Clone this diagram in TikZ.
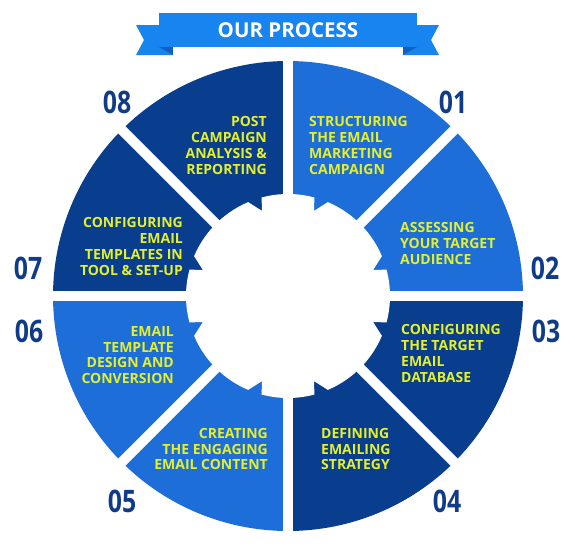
\documentclass[tikz,border=0pt]{standalone}
\usepackage{fontspec}
\setmainfont{Open Sans}
\newfontfamily\talfont[FakeStretch=0.8]{Open Sans}
\definecolor{lys}{RGB}{29,110,216}
\definecolor{mork}{RGB}{9,61,141}
\definecolor{gul}{RGB}{228,240,44}
\definecolor{navy}{RGB}{16,60,135}
\definecolor{baand}{RGB}{24,132,240}
\definecolor{fold}{RGB}{18,96,190}
\tikzset{
    tekst/.style={
           text=gul,
           font=\fontsize{14}{15.7}\selectfont\bfseries,
           inner sep=0pt},
    venstre/.style={tekst, align=left, anchor=west},
    hoejre/.style={tekst, align=right, anchor=east},
    tal/.style={
           text=navy,
           font=\talfont\fontsize{31}{31}\selectfont\bfseries,
           inner sep=0pt}
}
\begin{document}
\begin{tikzpicture}[x=1pt, y=1pt]
    \useasboundingbox (-288,-254) rectangle (287,296);

    \foreach \a/\farve in {45/lys, 0/lys, -45/mork, -90/mork, -135/lys, 180/lys, 135/mork, 90/mork}
        \fill[\farve] (0,0) -- (\a:235) arc[start angle=\a, delta angle=45, radius=235] -- cycle;
    \foreach \a in {0,45,90,135}
        \draw[white, line width=10pt] (\a:240) -- (\a+180:240);
    \fill[white] (-15:102)
        \foreach \c in {0,90,180,270} {
            arc[start angle=\c-15, end angle=\c+15, radius=102]
            -- (\c+17:89) -- (\c+23:102)
            arc[start angle=\c+23, end angle=\c+67, radius=102]
            -- (\c+73:89) -- (\c+75:102)
        } -- cycle;

    \fill[baand] (-152,271) -- (-115,271) -- (-115,241) -- (-152,241) -- (-144,256) -- cycle;
    \fill[baand] (151,271) -- (115,271) -- (115,241) -- (151,241) -- (143,256) -- cycle;
    \fill[fold] (-129,249) -- (-115,249) -- (-115,241) -- cycle;
    \fill[fold] (129,249) -- (115,249) -- (115,241) -- cycle;
    \fill[baand] (-129,249) rectangle (129,283);
    \node[font=\fontsize{20.5}{22}\selectfont\bfseries, text=white] (titel) at (0,266) {OUR PROCESS};

    \node[venstre] (t1) at (21,150.5) {STRUCTURING\\THE EMAIL\\MARKETING\\CAMPAIGN};
    \node[venstre] (t2) at (112,52.5) {ASSESSING\\YOUR TARGET\\AUDIENCE};
    \node[venstre] (t3) at (113,-57.5) {CONFIGURING\\THE TARGET\\EMAIL\\DATABASE};
    \node[venstre] (t4) at (33,-153) {DEFINING\\EMAILING\\STRATEGY};
    \node[hoejre] (t5) at (-20,-153) {CREATING\\THE ENGAGING\\EMAIL CONTENT};
    \node[hoejre] (t6) at (-114,-59) {EMAIL\\TEMPLATE\\DESIGN AND\\CONVERSION};
    \node[hoejre] (t7) at (-105,49.5) {CONFIGURING\\EMAIL\\TEMPLATES IN\\TOOL \& SET-UP};
    \node[hoejre] (t8) at (-21,150.5) {POST\\CAMPAIGN\\ANALYSIS \&\\REPORTING};

    \node[tal] (n1) at (165,194) {01};
    \node[tal] (n2) at (257,28) {02};
    \node[tal] (n3) at (258,-35) {03};
    \node[tal] (n4) at (159,-205) {04};
    \node[tal] (n5) at (-166,-205) {05};
    \node[tal] (n6) at (-259,-35) {06};
    \node[tal] (n7) at (-260,28) {07};
    \node[tal] (n8) at (-171,194) {08};
\end{tikzpicture}
\end{document}
